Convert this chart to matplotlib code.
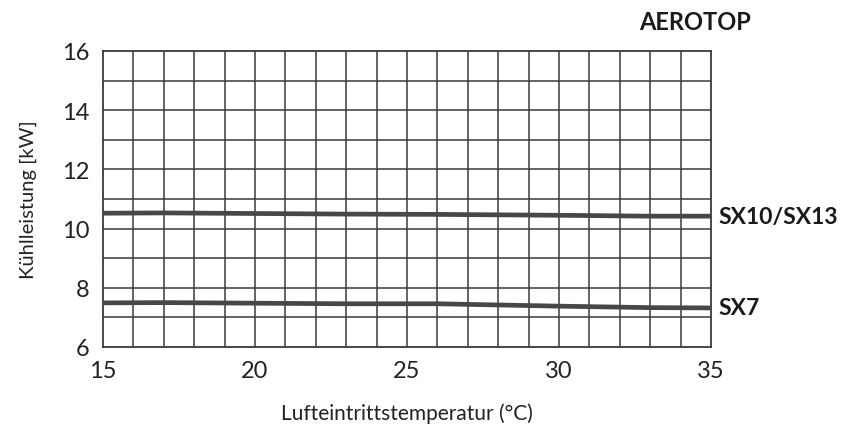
import numpy as np
import matplotlib
matplotlib.use("Agg")
import matplotlib.pyplot as plt

plt.rcParams['font.family'] = ['Lato', 'DejaVu Sans']

# Lufteintrittstemperatur (°C)
temp = [15, 17, 20, 23, 26, 30, 33, 35]
# Kühlleistung [kW]
sx10_13 = [10.52, 10.53, 10.51, 10.49, 10.48, 10.45, 10.42, 10.42]
sx7 = [7.49, 7.50, 7.48, 7.46, 7.46, 7.38, 7.33, 7.32]
series_names = ['SX10/SX13', 'SX7']

fig = plt.figure(figsize=(8.46, 4.35), dpi=100)
ax = fig.add_axes([103 / 846, 1 - 348 / 435, 608 / 846, 296 / 435])

ax.set_xlim(15, 35)
ax.set_ylim(6, 16)

# gitter jede Einheit
for xv in np.arange(16, 35):
    ax.axvline(xv, color='#3a3a3a', lw=1.1, zorder=1)
for yv in np.arange(7, 16):
    ax.axhline(yv, color='#3a3a3a', lw=1.1, zorder=1)

for s in ax.spines.values():
    s.set_color('#3a3a3a')
    s.set_linewidth(1.3)

for ys, name in zip([sx10_13, sx7], series_names):
    ax.plot(temp, ys, color='#474747', lw=3.4, solid_capstyle='butt', zorder=3)
    ax.text(1.013, (ys[-1] - 6) / 10, name, transform=ax.transAxes,
            fontsize=16.5, fontweight='bold', color='#1a1a1a',
            ha='left', va='center')

ax.set_xticks([15, 20, 25, 30, 35])
ax.set_yticks([6, 8, 10, 12, 14, 16])
ax.tick_params(length=0, labelsize=17, colors='#222222')
ax.tick_params(axis='x', pad=9)
ax.tick_params(axis='y', pad=10)

ax.set_xlabel('Lufteintrittstemperatur (°C)', fontsize=15, color='#222222', labelpad=16)
ax.set_ylabel('Kühlleistung [kW]', fontsize=14.5, color='#222222', labelpad=18)

fig.text(751 / 846, 1 - 22 / 435, 'AEROTOP', fontsize=17, fontweight='bold',
         color='#1a1a1a', ha='right', va='center')

fig.savefig('out.png', dpi=100)
